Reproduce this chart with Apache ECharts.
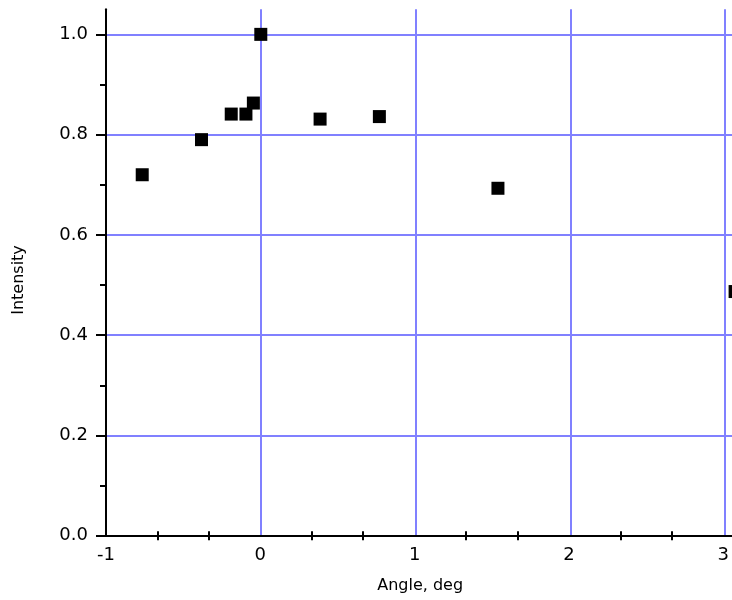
<!DOCTYPE html>
<html>
<head>
<meta charset="utf-8">
<script src="https://cdn.jsdelivr.net/npm/echarts@6/dist/echarts.min.js"></script>
<style>
html,body{margin:0;padding:0;background:#fff;}
#chart{width:732px;height:600px;}
</style>
</head>
<body>
<div id="chart"></div>
<script>
// Data
var angles = [-0.766, -0.383, -0.191, -0.096, -0.048, 0.0, 0.383, 0.766, 1.532, 3.064];
var intensities = [0.720, 0.790, 0.841, 0.841, 0.863, 1.000, 0.831, 0.836, 0.693, 0.487];
var xTickValues = [-1, 0, 1, 2, 3];
var yTickValues = [0.0, 0.2, 0.4, 0.6, 0.8, 1.0];
var xTitle = 'Angle, deg';
var yTitle = 'Intensity';

var points = angles.map(function (a, i) { return [a, intensities[i]]; });
var FONT = 'DejaVu Sans';
var GRIDC = '#8080ff';

var chart = echarts.init(document.getElementById('chart'), null, {renderer: 'canvas'});
chart.setOption({
  animation: false,
  backgroundColor: '#ffffff',
  grid: [
    {left: 106, width: 626, top: 9.3, height: 526.4, containLabel: false},
    {left: 106, width: 619.2, top: 34.3, height: 501.4, containLabel: false}
  ],
  xAxis: [
    {
      gridIndex: 0, type: 'value', min: -1, max: 3.044, interval: 1,
      axisLine: {show: true, onZero: false, lineStyle: {color: '#000', width: 2}},
      axisTick: {show: false}, axisLabel: {show: false},
      splitLine: {show: true, showMinLine: false, showMaxLine: false, lineStyle: {color: GRIDC, width: 2}}
    },
    {
      gridIndex: 1, type: 'value', min: xTickValues[0], max: xTickValues[xTickValues.length - 1], interval: 1,
      offset: 4.5,
      axisLine: {show: false, onZero: false},
      axisTick: {show: false, inside: true},
      minorTick: {show: true, splitNumber: 3, length: 9, lineStyle: {color: '#000', width: 2}},
      axisLabel: {show: true, margin: 6, color: '#000', fontFamily: FONT, fontSize: 18,
        formatter: function (v) { return String(v); }},
      splitLine: {show: false},
      name: xTitle, nameLocation: 'middle', nameGap: 38,
      nameTextStyle: {color: '#000', fontFamily: FONT, fontSize: 16, padding: [0, 0, 0, 11]}
    }
  ],
  yAxis: [
    {
      gridIndex: 0, type: 'value', min: 0, max: 1.05, interval: 0.2,
      axisLine: {show: true, onZero: false, lineStyle: {color: '#000', width: 2}},
      axisTick: {show: false}, axisLabel: {show: false},
      splitLine: {show: true, showMinLine: false, showMaxLine: false, lineStyle: {color: GRIDC, width: 2}}
    },
    {
      gridIndex: 1, type: 'value', min: yTickValues[0], max: yTickValues[yTickValues.length - 1], interval: 0.2,
      axisLine: {show: false, onZero: false},
      axisTick: {show: true, length: 10, lineStyle: {color: '#000', width: 2}},
      minorTick: {show: true, splitNumber: 2, length: 6, lineStyle: {color: '#000', width: 2}},
      axisLabel: {show: true, margin: 18, color: '#000', fontFamily: FONT, fontSize: 18,
        formatter: function (v) { return v.toFixed(1); }},
      splitLine: {show: false},
      name: yTitle, nameLocation: 'middle', nameGap: 79,
      nameTextStyle: {color: '#000', fontFamily: FONT, fontSize: 16, padding: [0, 0, 0, 10]}
    }
  ],
  series: [{
    type: 'scatter', xAxisIndex: 0, yAxisIndex: 0,
    symbol: 'rect', symbolSize: 13,
    itemStyle: {color: '#000', opacity: 1},
    data: points, clip: false
  }]
});
</script>
</body>
</html>
